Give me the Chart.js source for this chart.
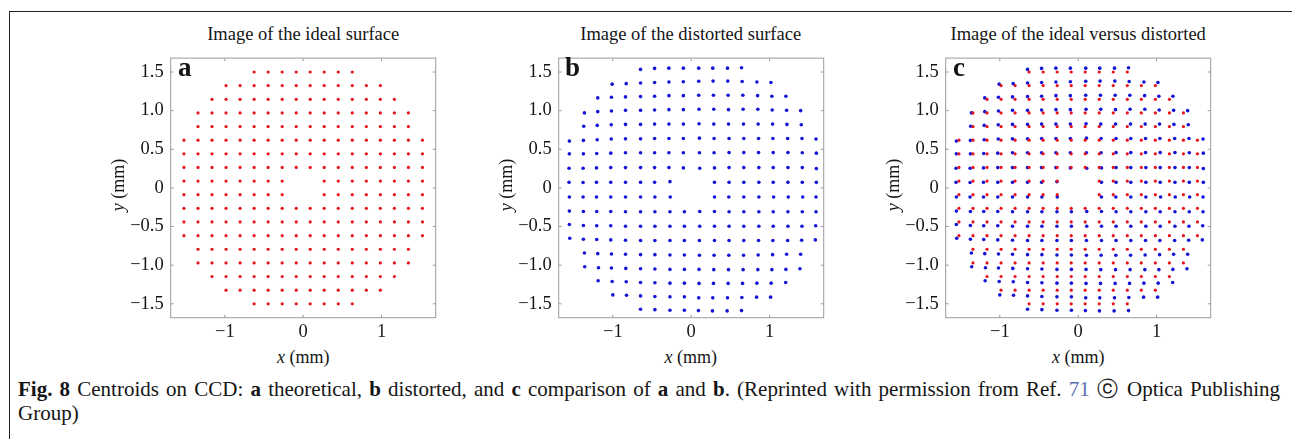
<!DOCTYPE html>
<html>
<head>
<meta charset="utf-8">
<script src="https://cdn.jsdelivr.net/npm/chart.js@4.4.1/dist/chart.umd.min.js"></script>
<style>
    body { margin: 0; width: 1292px; height: 439px; overflow: hidden; position: relative; background: #fff;
           font-family: "Liberation Serif", "Times New Roman", serif; color: #151515; }
    .frame { position: absolute; left: 9px; top: 11px; width: 1400px; height: 600px;
             border-left: 1.5px solid #222; border-top: 1.5px solid #222; }
    .panel { position: absolute; top: 40px; }
    .ttl { position: absolute; top: 25px; width: 265px; text-align: center; font-size: 18.5px; line-height: 19px; white-space: nowrap; }
    .xlab { position: absolute; top: 348px; width: 265px; text-align: center; font-size: 18px; line-height: 18px; }
    .ylab { position: absolute; top: 176px; width: 80px; text-align: center; font-size: 18px; line-height: 18px;
            transform: rotate(-90deg); transform-origin: 40px 9px; }
    .tag { position: absolute; top: 54px; font-size: 27px; font-weight: bold; line-height: 27px; }
    .cap { position: absolute; left: 18px; width: 1262px; font-size: 19px; line-height: 24px; white-space: nowrap; }
    .cap1 { top: 377px; text-align: justify; text-align-last: justify; }
    .cap2 { top: 401px; }
    .ref { color: #5b6fb0; }
    #probe { position: absolute; left: -5000px; top: 0; white-space: nowrap; font-size: 20px; }
</style>
</head>
<body>
<div class="frame"></div>

<div class="ttl" style="left:170.7px">Image of the ideal surface</div>
<div class="ttl" style="left:558.2px">Image of the distorted surface</div>
<div class="ttl" style="left:945.7px">Image of the ideal versus distorted</div>

<canvas id="chartA" class="panel" width="350" height="300" style="left:100px"></canvas>
<canvas id="chartB" class="panel" width="350" height="300" style="left:487.5px"></canvas>
<canvas id="chartC" class="panel" width="350" height="300" style="left:875px"></canvas>

<div class="tag" style="left:178px">a</div>
<div class="tag" style="left:565px">b</div>
<div class="tag" style="left:953px">c</div>

<div class="ylab" style="left:78px"><i>y</i> (mm)</div>
<div class="ylab" style="left:465.5px"><i>y</i> (mm)</div>
<div class="ylab" style="left:853px"><i>y</i> (mm)</div>

<div class="xlab" style="left:170.7px"><i>x</i> (mm)</div>
<div class="xlab" style="left:558.2px"><i>x</i> (mm)</div>
<div class="xlab" style="left:945.7px"><i>x</i> (mm)</div>

<div class="cap cap1" id="cap1"><b>Fig. 8</b> Centroids on CCD: <b>a</b> theoretical, <b>b</b> distorted, and <b>c</b> comparison of <b>a</b> and <b>b</b>. (Reprinted with permission from Ref. <span class="ref">71</span> &#9426; Optica Publishing</div>
<div class="cap cap2" id="cap2">Group)</div>
<span id="probe"></span>

<script>
// axes
const xRange = [-1.69, 1.69];
const yRange = [-1.68, 1.68];
const xTickVals = [-1, 0, 1];
const xTickText = ['\u22121', '0', '1'];
const yTickVals = [-1.5, -1, -0.5, 0, 0.5, 1, 1.5];
const yTickText = ['\u22121.5', '\u22121.0', '\u22120.5', '0', '0.5', '1.0', '1.5'];

// ideal spot grid (mm): column and row positions, '#' = spot present
const idealX = [-1.521, -1.342, -1.163, -0.984, -0.805, -0.626, -0.447, -0.268, -0.089,
                0.089, 0.268, 0.447, 0.626, 0.805, 0.984, 1.163, 1.342, 1.521];
const idealY = [1.5, 1.324, 1.147, 0.971, 0.794, 0.618, 0.441, 0.265, 0.088,
                -0.088, -0.265, -0.441, -0.618, -0.794, -0.971, -1.147, -1.324, -1.5];
const idealMask = [
    '.....########.....',
    '...############...',
    '..##############..',
    '.################.',
    '.################.',
    '##################',
    '##################',
    '##################',
    '########..########',
    '########..########',
    '##################',
    '##################',
    '##################',
    '.################.',
    '.################.',
    '..##############..',
    '...############...',
    '.....########.....'
];

// distorted spots, row by row (mm)
const distX = [
    [-0.646, -0.467, -0.285, -0.100, 0.096, 0.275, 0.463, 0.642],
    [-1.008, -0.829, -0.646, -0.467, -0.284, -0.100, 0.096, 0.279, 0.467, 0.650, 0.838, 1.017],
    [-1.192, -1.017, -0.838, -0.646, -0.467, -0.284, -0.100, 0.096, 0.284, 0.471, 0.659, 0.847, 1.029, 1.208],
    [-1.362, -1.192, -1.017, -0.838, -0.646, -0.467, -0.284, -0.100, 0.100, 0.288, 0.476, 0.662, 0.850, 1.033, 1.217, 1.396],
    [-1.371, -1.199, -1.020, -0.838, -0.646, -0.467, -0.284, -0.100, 0.100, 0.288, 0.476, 0.667, 0.854, 1.038, 1.221, 1.404],
    [-1.554, -1.375, -1.199, -1.020, -0.838, -0.646, -0.467, -0.284, -0.100, 0.105, 0.292, 0.483, 0.671, 0.859, 1.042, 1.230, 1.413, 1.592],
    [-1.554, -1.375, -1.205, -1.026, -0.838, -0.646, -0.467, -0.284, -0.100, 0.105, 0.292, 0.483, 0.671, 0.859, 1.046, 1.234, 1.417, 1.596],
    [-1.558, -1.379, -1.208, -1.026, -0.838, -0.646, -0.467, -0.284, -0.100, 0.109, 0.297, 0.483, 0.671, 0.863, 1.046, 1.234, 1.417, 1.596],
    [-1.558, -1.379, -1.208, -1.026, -0.838, -0.646, -0.467, -0.271, 0.297, 0.483, 0.671, 0.863, 1.046, 1.234, 1.417, 1.596],
    [-1.554, -1.379, -1.208, -1.026, -0.838, -0.646, -0.463, -0.267, 0.297, 0.480, 0.671, 0.863, 1.051, 1.238, 1.422, 1.592],
    [-1.554, -1.375, -1.205, -1.026, -0.838, -0.646, -0.463, -0.271, -0.087, 0.109, 0.297, 0.483, 0.671, 0.863, 1.046, 1.234, 1.417, 1.592],
    [-1.554, -1.375, -1.205, -1.026, -0.838, -0.646, -0.463, -0.271, -0.087, 0.109, 0.297, 0.483, 0.671, 0.863, 1.046, 1.234, 1.413, 1.588],
    [-1.549, -1.375, -1.205, -1.026, -0.838, -0.646, -0.463, -0.271, -0.087, 0.105, 0.297, 0.483, 0.671, 0.859, 1.042, 1.230, 1.409, 1.583],
    [-1.362, -1.192, -1.017, -0.838, -0.646, -0.463, -0.271, -0.087, 0.105, 0.292, 0.480, 0.668, 0.854, 1.038, 1.217, 1.396],
    [-1.358, -1.183, -1.017, -0.834, -0.646, -0.463, -0.271, -0.087, 0.100, 0.288, 0.476, 0.662, 0.850, 1.029, 1.208, 1.387],
    [-1.187, -1.008, -0.829, -0.646, -0.463, -0.271, -0.087, 0.100, 0.284, 0.471, 0.655, 0.838, 1.020, 1.205],
    [-1.000, -0.825, -0.646, -0.463, -0.271, -0.087, 0.096, 0.275, 0.463, 0.646, 0.834, 1.013],
    [-0.646, -0.463, -0.271, -0.087, 0.092, 0.271, 0.458, 0.642]
];
const distY = [
    [1.534, 1.547, 1.550, 1.550, 1.550, 1.550, 1.550, 1.555],
    [1.343, 1.349, 1.358, 1.365, 1.370, 1.374, 1.380, 1.382, 1.382, 1.378, 1.370, 1.365],
    [1.165, 1.174, 1.178, 1.182, 1.187, 1.194, 1.194, 1.199, 1.199, 1.199, 1.199, 1.194, 1.187, 1.187],
    [0.971, 0.987, 0.996, 1.004, 1.004, 1.009, 1.013, 1.013, 1.017, 1.017, 1.013, 1.017, 1.017, 1.009, 1.004, 1.000],
    [0.797, 0.809, 0.818, 0.822, 0.822, 0.826, 0.826, 0.826, 0.831, 0.826, 0.826, 0.826, 0.826, 0.826, 0.822, 0.818],
    [0.606, 0.615, 0.623, 0.632, 0.635, 0.635, 0.640, 0.640, 0.640, 0.644, 0.640, 0.640, 0.640, 0.640, 0.640, 0.640, 0.640, 0.632],
    [0.441, 0.441, 0.445, 0.450, 0.454, 0.454, 0.454, 0.454, 0.454, 0.454, 0.454, 0.457, 0.457, 0.457, 0.457, 0.457, 0.454, 0.450],
    [0.254, 0.254, 0.259, 0.263, 0.263, 0.263, 0.263, 0.263, 0.259, 0.254, 0.259, 0.263, 0.263, 0.263, 0.263, 0.263, 0.263, 0.250],
    [0.072, 0.069, 0.072, 0.072, 0.072, 0.072, 0.072, 0.081, 0.072, 0.072, 0.072, 0.072, 0.072, 0.072, 0.072, 0.072],
    [-0.118, -0.118, -0.118, -0.118, -0.118, -0.118, -0.118, -0.118, -0.118, -0.118, -0.118, -0.118, -0.118, -0.118, -0.118, -0.118],
    [-0.300, -0.305, -0.305, -0.305, -0.309, -0.309, -0.309, -0.309, -0.309, -0.305, -0.305, -0.309, -0.309, -0.309, -0.309, -0.309, -0.309, -0.309],
    [-0.474, -0.487, -0.490, -0.490, -0.496, -0.496, -0.496, -0.496, -0.496, -0.496, -0.496, -0.496, -0.496, -0.496, -0.496, -0.496, -0.496, -0.490],
    [-0.652, -0.665, -0.668, -0.673, -0.677, -0.681, -0.681, -0.681, -0.681, -0.681, -0.681, -0.681, -0.681, -0.681, -0.681, -0.681, -0.677, -0.673],
    [-0.842, -0.851, -0.855, -0.859, -0.864, -0.864, -0.868, -0.868, -0.872, -0.872, -0.872, -0.872, -0.868, -0.864, -0.859, -0.859],
    [-1.020, -1.033, -1.037, -1.042, -1.046, -1.050, -1.055, -1.055, -1.055, -1.058, -1.058, -1.058, -1.058, -1.058, -1.055, -1.046],
    [-1.202, -1.211, -1.215, -1.224, -1.228, -1.233, -1.233, -1.236, -1.236, -1.236, -1.236, -1.233, -1.233, -1.224],
    [-1.385, -1.389, -1.398, -1.405, -1.410, -1.410, -1.423, -1.423, -1.423, -1.418, -1.414, -1.414],
    [-1.571, -1.576, -1.583, -1.583, -1.588, -1.592, -1.592, -1.588]
];

const RED = '#e8121a';
const BLUE = '#1414d8';

// caption: pick the size whose natural line width fills the frame, as in the print layout
const probe = document.getElementById('probe');
probe.innerHTML = document.getElementById('cap1').innerHTML;
const capSize = Math.min(21, 20 * 1250 / probe.getBoundingClientRect().width);
['cap1', 'cap2'].forEach(id => { document.getElementById(id).style.fontSize = capSize + 'px'; });

// build point lists
const idealPts = [];
idealY.forEach((yv, r) => {
    idealMask[r].split('').forEach((c, k) => {
        if (c === '#') idealPts.push({ x: idealX[k], y: yv });
    });
});
const distPts = [];
distX.forEach((row, r) => {
    row.forEach((xv, k) => distPts.push({ x: xv, y: distY[r][k] }));
});

// gray box with inward ticks on all four sides
const boxPlugin = {
    id: 'boxPlugin',
    afterDraw(chart) {
        const { ctx, chartArea: a, scales: { x, y } } = chart;
        ctx.save();
        ctx.strokeStyle = '#9c9c9c';
        ctx.lineWidth = 1;
        ctx.strokeRect(a.left, a.top, a.right - a.left, a.bottom - a.top);
        ctx.beginPath();
        x.ticks.forEach(t => {
            const px = x.getPixelForValue(t.value);
            ctx.moveTo(px, a.bottom); ctx.lineTo(px, a.bottom - 3);
            ctx.moveTo(px, a.top); ctx.lineTo(px, a.top + 3);
        });
        y.ticks.forEach(t => {
            const py = y.getPixelForValue(t.value);
            ctx.moveTo(a.left, py); ctx.lineTo(a.left + 3, py);
            ctx.moveTo(a.right, py); ctx.lineTo(a.right - 3, py);
        });
        ctx.stroke();
        ctx.restore();
    }
};

function makeSet(pts, color, r) {
    return {
        data: pts,
        backgroundColor: color,
        borderWidth: 0,
        pointRadius: r,
        pointHoverRadius: r
    };
}

function makeChart(id, datasets) {
    const font = { family: '"Liberation Serif", "Times New Roman", serif', size: 18.5 };
    return new Chart(document.getElementById(id), {
        type: 'scatter',
        data: { datasets: datasets },
        options: {
            responsive: false,
            animation: false,
            devicePixelRatio: 1,
            layout: { padding: { top: 13.3, right: 14.3, bottom: 0, left: 0 } },
            plugins: { legend: { display: false }, tooltip: { enabled: false } },
            scales: {
                x: {
                    type: 'linear',
                    min: xRange[0], max: xRange[1],
                    grid: { display: false, drawTicks: false },
                    border: { display: false },
                    afterBuildTicks: axis => { axis.ticks = xTickVals.map(v => ({ value: v })); },
                    afterFit: axis => { axis.height = 22.3; },
                    ticks: { color: '#151515', font: font, padding: 3, maxRotation: 0,
                             callback: (v, i) => xTickText[i] }
                },
                y: {
                    type: 'linear',
                    min: yRange[0], max: yRange[1],
                    grid: { display: false, drawTicks: false },
                    border: { display: false },
                    afterBuildTicks: axis => { axis.ticks = yTickVals.map(v => ({ value: v })); },
                    afterFit: axis => { axis.width = 70.7; },
                    ticks: { color: '#151515', font: font, padding: 7,
                             callback: (v, i) => yTickText[i] }
                }
            }
        },
        plugins: [boxPlugin]
    });
}

makeChart('chartA', [makeSet(idealPts, RED, 1.6)]);
makeChart('chartB', [makeSet(distPts, BLUE, 1.8)]);
makeChart('chartC', [makeSet(idealPts, RED, 1.6), makeSet(distPts, BLUE, 1.8)]);
</script>
</body>
</html>
